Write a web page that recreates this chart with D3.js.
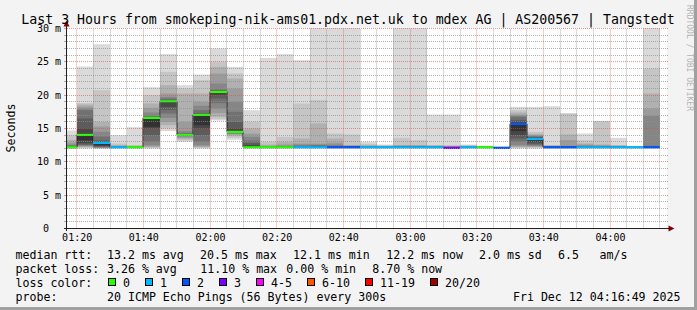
<!DOCTYPE html>
<html><head><meta charset="utf-8">
<script src="https://cdn.jsdelivr.net/npm/d3@7"></script>
<style>
body{margin:0;background:#f3f3f3}
svg{display:block}
text{font-family:"DejaVu Sans Mono",monospace;white-space:pre}
</style>
</head><body>
<svg id="c" width="697" height="310"></svg>
<script>
// ---------------- data ----------------
const titleText = "Last 3 Hours from smokeping-nik-ams01.pdx.net.uk to mdex AG | AS200567 | Tangstedt";
const rangeStart = "01:17:06", rangeEnd = "04:17:06";
const barEnds = ["01:20","01:25","01:30","01:35","01:40","01:45","01:50","01:55","02:00","02:05","02:10","02:15",
  "02:20","02:25","02:30","02:35","02:40","02:45","02:50","02:55","03:00","03:05","03:10","03:15",
  "03:20","03:25","03:30","03:35","03:40","03:45","03:50","03:55","04:00","04:05","04:10","04:15"];
const medians = [12.2,14.05,12.85,12.2,12.2,16.6,19.1,14.05,17.05,20.5,14.5,12.2,12.2,12.2,12.2,12.2,12.2,12.2,
  12.2,12.2,12.2,12.2,12.2,12.1,12.2,12.2,12.1,15.7,13.45,12.2,12.2,12.2,12.2,12.2,12.2,12.2];
const lostPings = [0,0,1,1,0,0,0,0,0,0,0,0,0,0,1,1,2,2,1,1,1,1,1,3,1,0,2,2,1,2,2,1,1,1,1,2];
const sortedPings = [
 [12.0,12.0,12.05,12.1,12.1,12.15,12.15,12.2,12.2,12.25,12.3,12.35,12.45,12.6,12.9,13.3,14.0,14.7],
 [12.0,12.1,12.2,12.3,12.4,12.5,12.6,12.8,13.25,14.0,15.0,16.5,17.75,18.0,18.3,18.6,18.8,24.3],
 [12.0,12.0,12.05,12.1,12.15,12.2,12.3,12.4,12.5,12.75,12.85,13.2,13.8,14.5,15.3,16.0,20.75,27.65],
 [12.0,12.05,12.1,12.1,12.15,12.15,12.2,12.2,12.2,12.2,12.2,12.25,12.3,12.35,12.4,12.5,12.75,14.0],
 [12.0,12.05,12.1,12.1,12.15,12.15,12.2,12.2,12.2,12.2,12.2,12.2,12.25,12.3,12.35,12.4,12.5,15.2],
 [12.0,12.1,12.2,12.3,12.5,13.0,14.0,15.0,15.25,16.6,16.65,16.75,16.9,17.4,18.1,18.75,20.0,21.2],
 [14.6,15.0,15.5,16.0,16.6,17.25,17.8,18.25,18.9,19.1,19.2,19.3,19.5,19.75,20.25,21.5,23.5,26.15],
 [13.0,13.2,13.4,13.6,13.8,13.9,13.95,14.0,14.0,14.05,14.1,14.2,14.3,14.6,16.0,20.25,21.0,21.5],
 [12.0,12.1,12.2,12.3,12.5,13.0,14.0,15.0,15.5,17.05,17.1,17.3,17.75,18.4,19.0,20.25,22.25,23.1],
 [16.2,16.4,16.75,17.3,18.0,18.8,19.5,20.0,20.3,20.5,20.6,20.7,20.85,21.75,23.25,24.25,25.0,27.0],
 [13.3,13.6,13.9,14.1,14.2,14.3,14.4,14.45,14.5,14.6,15.0,16.0,17.5,19.0,21.0,22.5,23.25,24.25],
 [12.0,12.05,12.1,12.1,12.15,12.15,12.2,12.2,12.2,12.3,12.5,12.8,13.2,13.75,14.25,15.0,16.0,17.75],
 [12.0,12.05,12.1,12.1,12.15,12.15,12.2,12.2,12.2,12.2,12.2,12.2,12.25,12.3,12.4,12.6,13.0,25.6],
 [12.0,12.05,12.1,12.1,12.15,12.15,12.2,12.2,12.2,12.2,12.2,12.25,12.3,12.4,12.6,13.0,13.75,26.15],
 [12.0,12.05,12.1,12.1,12.15,12.15,12.2,12.2,12.2,12.2,12.25,12.3,12.4,12.6,12.75,13.5,18.75,25.25],
 [12.0,12.05,12.1,12.1,12.15,12.15,12.2,12.2,12.2,12.2,12.25,12.35,12.5,12.6,12.75,15.75,19.25,40],
 [12.0,12.05,12.1,12.1,12.15,12.15,12.2,12.2,12.2,12.2,12.25,12.3,12.4,12.6,12.9,13.5,14.25,40],
 [12.0,12.05,12.1,12.1,12.15,12.15,12.2,12.2,12.2,12.2,12.25,12.3,12.35,12.4,12.45,12.5,14.1,40],
 [12.0,12.05,12.1,12.1,12.15,12.15,12.2,12.2,12.2,12.2,12.2,12.25,12.3,12.35,12.4,12.5,12.7,13.0],
 [12.0,12.05,12.1,12.1,12.15,12.15,12.2,12.2,12.2,12.2,12.2,12.2,12.25,12.3,12.35,12.4,12.5,12.6],
 [12.0,12.05,12.1,12.1,12.15,12.15,12.2,12.2,12.2,12.2,12.25,12.3,12.35,12.4,12.45,12.5,13.6,40],
 [12.0,12.05,12.1,12.1,12.15,12.15,12.2,12.2,12.2,12.2,12.25,12.3,12.35,12.4,12.45,12.5,13.25,40],
 [12.0,12.05,12.1,12.1,12.15,12.15,12.2,12.2,12.2,12.2,12.2,12.25,12.3,12.35,12.4,12.45,12.5,17.1],
 [12.0,12.0,12.05,12.05,12.1,12.1,12.1,12.1,12.1,12.1,12.15,12.2,12.25,12.3,12.35,12.4,12.5,17.1],
 [12.0,12.05,12.1,12.1,12.15,12.15,12.2,12.2,12.2,12.2,12.2,12.2,12.25,12.3,12.35,12.4,12.5,12.6],
 [12.0,12.05,12.1,12.1,12.15,12.15,12.2,12.2,12.2,12.2,12.2,12.2,12.2,12.25,12.25,12.3,12.35,12.4],
 [12.0,12.0,12.05,12.05,12.1,12.1,12.1,12.1,12.1,12.1,12.1,12.15,12.15,12.2,12.2,12.25,12.25,12.3],
 [12.0,12.1,12.2,12.3,12.5,13.0,13.5,14.0,14.6,15.8,16.0,16.3,16.75,16.9,17.1,17.4,17.75,18.25],
 [12.0,12.1,12.2,12.3,12.4,12.5,12.7,12.9,13.2,13.5,13.6,13.7,13.8,13.9,14.0,14.2,14.5,18.25],
 [12.0,12.05,12.1,12.1,12.15,12.15,12.2,12.2,12.2,12.2,12.2,12.25,12.3,12.35,12.4,12.45,12.5,18.35],
 [12.0,12.05,12.1,12.1,12.15,12.15,12.2,12.2,12.2,12.2,12.25,12.3,12.35,12.4,13.25,14.1,17.25,17.3],
 [12.0,12.05,12.1,12.1,12.15,12.15,12.2,12.2,12.2,12.2,12.25,12.3,12.35,12.45,12.6,12.75,13.25,14.25],
 [12.0,12.05,12.1,12.1,12.15,12.15,12.2,12.2,12.2,12.2,12.25,12.3,12.35,12.4,12.5,12.6,16.1,16.15],
 [12.0,12.05,12.1,12.1,12.15,12.15,12.2,12.2,12.2,12.2,12.2,12.25,12.3,12.35,12.4,12.45,12.5,13.6],
 [12.0,12.05,12.1,12.1,12.15,12.15,12.2,12.2,12.2,12.2,12.2,12.2,12.2,12.25,12.25,12.3,12.3,12.35],
 [12.0,12.05,12.1,12.1,12.15,12.15,12.2,12.2,12.2,12.2,12.25,12.3,12.4,16.9,18.0,20.25,24.0,40]
];
const yTickValues = [0,5,10,15,20,25,30];
const yUnit = "m";
const xTickLabels = ["01:20","01:40","02:00","02:20","02:40","03:00","03:20","03:40","04:00"];
const lossLabels = ["0","1","2","3","4-5","6-10","11-19","20/20"];
const lossMaxCount = [0,1,2,3,5,10,19,20];
const lossColors = ["#26ff00","#00b8ff","#0059ff","#7e00ff","#ff00ff","#ff5500","#ff0000","#a10000"];
const rttStats = ["13.2 ms avg","20.5 ms max","12.1 ms min","12.2 ms now","2.0 ms sd","6.5","am/s"];
const lossStats = ["3.26 % avg","11.10 % max","0.00 % min","8.70 % now"];
const probeText = "20 ICMP Echo Pings (56 Bytes) every 300s";
const stampText = "Fri Dec 12 04:16:49 2025";
const yLabel = "Seconds";
const watermark = "RRDTOOL / TOBI OETIKER";

// ---------------- layout ----------------
const W = 697, H = 310;
const L = 67, R = 667, T = 28.5, B = 228.5;
const rttX = [107, 200, 293, 386.3, 479, 558, 599.6];
const lossX = [107, 200.3, 286.3, 372.3];

const svg = d3.select("#c");
const parse = d3.timeParse("%H:%M:%S");
const parseHM = d3.timeParse("%H:%M");
const x = d3.scaleTime().domain([parse(rangeStart), parse(rangeEnd)]).range([L, R]);
const y = d3.scaleLinear().domain([0, 30]).range([B, T]);
const crisp = v => Math.floor(v) + 0.5;

svg.append("rect").attr("width", W).attr("height", H).attr("fill", "#f3f3f3");
svg.append("rect").attr("x", 0).attr("y", H - 3).attr("width", W).attr("height", 3).attr("fill", "#a0a0a0");
svg.append("rect").attr("x", W - 3).attr("y", 0).attr("width", 3).attr("height", H).attr("fill", "#a0a0a0");
svg.append("rect").attr("x", L).attr("y", 28).attr("width", R - L).attr("height", 200).attr("fill", "#fff");

svg.append("clipPath").attr("id", "pc").append("rect")
  .attr("x", L).attr("y", 28).attr("width", R - L).attr("height", 200.5);
const plot = svg.append("g").attr("clip-path", "url(#pc)");

// bars
const bars = barEnds.map((e, i) => {
  const end = parseHM(e);
  return {i, start: d3.timeMinute.offset(end, -5), end, med: medians[i], loss: lostPings[i], p: sortedPings[i]};
});

// smoke
bars.forEach(b => {
  const x0 = Math.max(L, Math.round(x(b.start))), x1 = Math.round(x(b.end));
  const n = b.p.length, half = n / 2;
  for (let k = 0; k < half; k++) {
    const lo = b.p[k], hi = b.p[n - 1 - k];
    const g = Math.floor(190 / (half) * (half - (k + 1))) + 50;
    const yt = y(Math.min(hi, 31)), yb = y(lo);
    plot.append("rect").attr("x", x0).attr("width", x1 - x0)
      .attr("y", yt).attr("height", Math.max(0, yb - yt))
      .attr("fill", d3.rgb(g, g, g).formatHex());
  }
});

// median line
const pts = [];
bars.forEach(b => {
  pts.push([Math.max(L, Math.round(x(b.start))), y(b.med)]);
  pts.push([Math.round(x(b.end)), y(b.med)]);
});
plot.append("path").attr("d", d3.line()(pts)).attr("fill", "none")
  .attr("stroke", "#202020").attr("stroke-width", 1);

// loss coloured median marks
bars.forEach(b => {
  const li = lossMaxCount.findIndex(m => b.loss <= m);
  const x0 = Math.max(L, Math.round(x(b.start))), x1 = Math.round(x(b.end));
  plot.append("rect").attr("x", x0).attr("width", x1 - x0)
    .attr("y", y(b.med) - 1).attr("height", 2.2).attr("fill", lossColors[li]);
});

// grid (drawn over data, like rrdtool)
const gridC = "rgba(143,143,143,0.7)", mgridC = "rgba(222,80,80,0.6)";
const g = svg.append("g");
d3.range(1, 31).forEach(v => {
  const yy = crisp(y(v));
  const major = v % 5 === 0;
  g.append("line").attr("x1", L).attr("x2", 669).attr("y1", yy).attr("y2", yy)
    .attr("stroke", major ? mgridC : gridC).attr("stroke-dasharray", "1,1");
  g.append("line").attr("x1", 64).attr("x2", 66).attr("y1", yy).attr("y2", yy)
    .attr("stroke", major ? mgridC : gridC);
});
d3.timeMinute.every(5).range(parse(rangeStart), parse(rangeEnd)).forEach(t => {
  const xx = crisp(x(t));
  const major = t.getMinutes() % 20 === 0;
  g.append("line").attr("x1", xx).attr("x2", xx).attr("y1", B).attr("y2", T)
    .attr("stroke", major ? mgridC : gridC).attr("stroke-dasharray", "1,1");
});

// axes
svg.append("line").attr("x1", 64).attr("x2", 670).attr("y1", B).attr("y2", B).attr("stroke", "#202020");
svg.append("line").attr("x1", L - 0.5).attr("x2", L - 0.5).attr("y1", 231).attr("y2", 25).attr("stroke", "#202020");
svg.append("path").attr("d", `M${L - 0.5},20.5 L${L - 3.5},26.5 L${L + 2.5},26.5 Z`).attr("fill", "#800000");
svg.append("path").attr("d", `M674.5,${B} L668.5,${B - 3} L668.5,${B + 3} Z`).attr("fill", "#800000");

// y tick labels
yTickValues.forEach(v => {
  svg.append("text").attr("x", 61).attr("y", crisp(y(v)) + 3.5).attr("text-anchor", "end")
    .attr("font-size", "10px").attr("fill", "#000")
    .text(v === 0 ? "0\u00a0\u00a0" : v + " " + yUnit);
});
// x tick labels
xTickLabels.forEach(s => {
  svg.append("text").attr("x", x(parseHM(s)) + 0.5).attr("y", 241).attr("text-anchor", "middle")
    .attr("font-size", "10px").attr("fill", "#000").text(s);
});

// title
svg.append("text").attr("x", 348).attr("y", 24).attr("text-anchor", "middle")
  .attr("font-size", "13.24px").attr("fill", "#000").text(titleText);
// y label
svg.append("text").attr("transform", "translate(15,128) rotate(-90)").attr("text-anchor", "middle")
  .attr("font-size", "11.6px").attr("fill", "#000").text(yLabel);
// watermark
svg.append("text").attr("transform", "translate(686.5,5) rotate(90)")
  .attr("font-size", "8px").attr("fill", "#b4b4b4").text(watermark);

// legend
const lf = "11.6px";
const leg = (tx, xx, yy) => svg.append("text").attr("x", xx).attr("y", yy).attr("font-size", lf).attr("fill", "#000").text(tx);
leg("median rtt:", 15.5, 258.5);
rttStats.forEach((s, i) => leg(s, rttX[i], 258.5));
leg("packet loss:", 15.5, 272.5);
lossStats.forEach((s, i) => leg(s, lossX[i], 272.5));
leg("loss color:", 15.5, 286.5);
let bx = 108.5;
lossLabels.forEach((s, i) => {
  svg.append("rect").attr("x", bx).attr("y", 278.5).attr("width", 7).attr("height", 7)
    .attr("fill", lossColors[i]).attr("stroke", "#000").attr("stroke-width", 1);
  leg(s, bx + 14.5, 286.5);
  bx += 30 + 7 * s.length;
});
leg("probe:", 15.5, 300.5);
leg(probeText, 107, 300.5);
svg.append("text").attr("x", 680.5).attr("y", 300.5).attr("text-anchor", "end")
  .attr("font-size", lf).attr("fill", "#000").text(stampText);
</script>
</body></html>
